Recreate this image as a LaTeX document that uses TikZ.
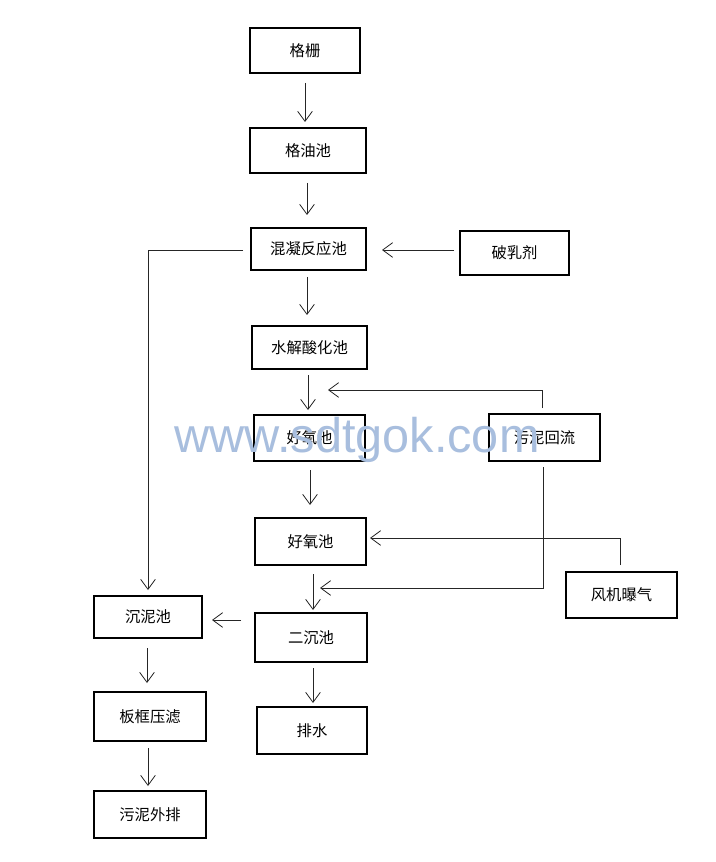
\documentclass[tikz,border=0pt]{standalone}
\usepackage{fontspec}
\newfontfamily\cjk{Noto Sans CJK SC}
\newfontfamily\wmfont{Liberation Sans}
\usetikzlibrary{arrows.meta}
\definecolor{wmblue}{RGB}{168,190,222}
\begin{document}
\begin{tikzpicture}[x=0.75pt,y=-0.75pt,
  box/.style={draw,line width=1.5pt,inner sep=0pt,font=\cjk\fontsize{11.5}{14}\selectfont},
  arr/.style={line width=0.6pt,draw=black!85,-{Straight Barb[length=7.5pt,width=11pt,line width=0.6pt]}},
  ln/.style={line width=0.6pt,draw=black!85}]
\useasboundingbox[fill=white] (0,0) rectangle (715,862);
\node[box,minimum width=82.5pt,minimum height=33.75pt] (gs) at (305,50.5) {格栅};
\node[box,minimum width=87pt,minimum height=33.75pt] (gy) at (308,150.5) {格油池};
\node[box,minimum width=86.25pt,minimum height=31.5pt] (hn) at (308.5,249) {混凝反应池};
\node[box,minimum width=81.75pt,minimum height=33pt] (pr) at (514.5,253) {破乳剂};
\node[box,minimum width=86.25pt,minimum height=32.25pt] (sj) at (309.5,347.5) {水解酸化池};
\node[box,minimum width=83.25pt,minimum height=34.5pt] (hy1) at (309.5,438) {好氧池};
\node[box,minimum width=83.25pt,minimum height=35.25pt] (wn) at (544.5,437.5) {污泥回流};
\node[box,minimum width=83.25pt,minimum height=35.25pt] (hy2) at (310.5,541.5) {好氧池};
\node[box,minimum width=83.25pt,minimum height=34.5pt] (fj) at (621.5,595) {风机曝气};
\node[box,minimum width=84pt,minimum height=36.75pt] (ec) at (311,637.5) {二沉池};
\node[box,minimum width=81pt,minimum height=31.5pt] (cn) at (148,617) {沉泥池};
\node[box,minimum width=84pt,minimum height=36.75pt] (bk) at (150,716.5) {板框压滤};
\node[box,minimum width=84pt,minimum height=35.25pt] (ws) at (150,814.5) {污泥外排};
\node[box,minimum width=82.5pt,minimum height=35.25pt] (ps) at (312,730.5) {排水};
% connector end points
\coordinate (a1s) at (305,83);  \coordinate (a1e) at (305,122);
\coordinate (a2s) at (307,183); \coordinate (a2e) at (307,215);
\coordinate (a3s) at (307,277); \coordinate (a3e) at (307,315);
\coordinate (a4s) at (308,375); \coordinate (a4e) at (308,410);
\coordinate (a5s) at (310,470); \coordinate (a5e) at (310,505);
\coordinate (a6s) at (313,574); \coordinate (a6e) at (313,610);
\coordinate (a7s) at (313,668); \coordinate (a7e) at (313,703);
\coordinate (a8s) at (147,648); \coordinate (a8e) at (147,683);
\coordinate (a9s) at (148,748); \coordinate (a9e) at (148,786);
\coordinate (prs) at (454,250); \coordinate (pre) at (382,250);
\coordinate (hns) at (243,250); \coordinate (hnc) at (148,250); \coordinate (hne) at (148,590);
\coordinate (wts) at (542,408); \coordinate (wtc) at (542,390); \coordinate (wte) at (328,390);
\coordinate (wbs) at (543,467); \coordinate (wbc) at (543,588); \coordinate (wbe) at (320,588);
\coordinate (fjs) at (620,565); \coordinate (fjc) at (620,538); \coordinate (fje) at (370,538);
\coordinate (ecs) at (241,620); \coordinate (ece) at (212,620);
% vertical arrows
\draw[arr] (a1s) -- (a1e);
\draw[arr] (a2s) -- (a2e);
\draw[arr] (a3s) -- (a3e);
\draw[arr] (a4s) -- (a4e);
\draw[arr] (a5s) -- (a5e);
\draw[arr] (a6s) -- (a6e);
\draw[arr] (a7s) -- (a7e);
\draw[arr] (a8s) -- (a8e);
\draw[arr] (a9s) -- (a9e);
% side connections
\draw[arr] (prs) -- (pre);
\draw[arr] (hns) -- (hnc) -- (hne);
\draw[arr] (wts) -- (wtc) -- (wte);
\draw[arr] (wbs) -- (wbc) -- (wbe);
\draw[arr] (fjs) -- (fjc) -- (fje);
\draw[arr] (ecs) -- (ece);
% watermark
\node[text=wmblue,font=\wmfont\fontsize{36.5}{40}\selectfont,inner sep=0pt] (wm) at (357,440) {www.sdtgok.com};
\end{tikzpicture}
\end{document}
